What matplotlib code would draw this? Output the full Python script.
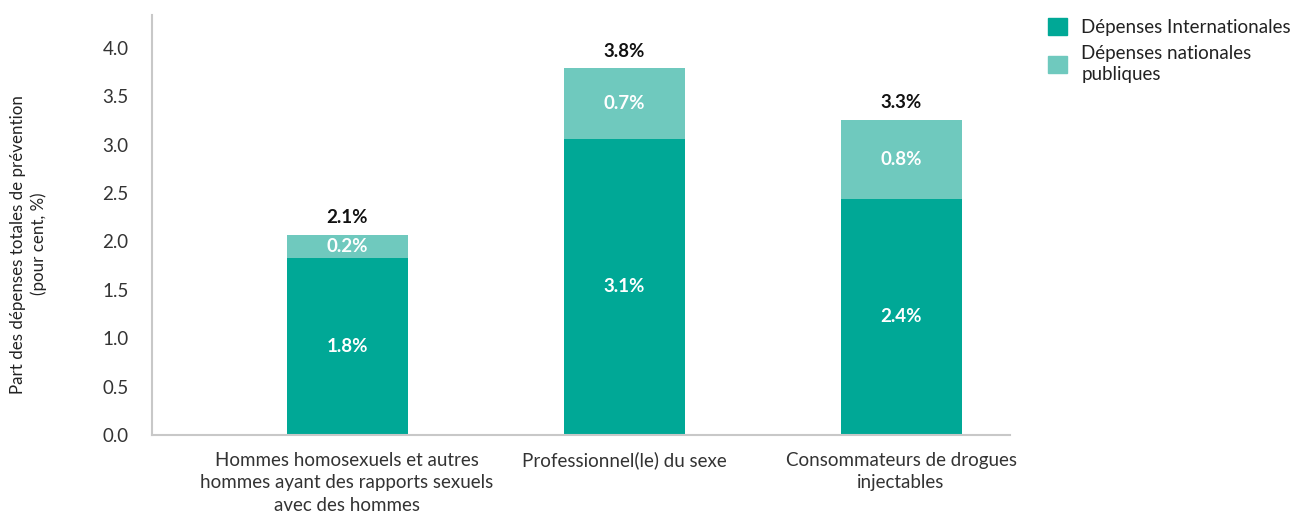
import numpy as np
import matplotlib.pyplot as plt
from matplotlib.patches import Patch

plt.rcParams['font.family'] = ['Lato', 'DejaVu Sans']

# données : part des dépenses totales de prévention (%)
categories = ["Hommes homosexuels et autres\nhommes ayant des rapports sexuels\navec des hommes",
              "Professionnel(le) du sexe",
              "Consommateurs de drogues\ninjectables"]
internationales = [1.83, 3.06, 2.44]
nationales = [0.24, 0.73, 0.82]
series_labels = ["Dépenses Internationales", "Dépenses nationales\npubliques"]
yticks = [0.0, 0.5, 1.0, 1.5, 2.0, 2.5, 3.0, 3.5, 4.0]

c_int = "#00a896"
c_nat = "#6fc9be"
grey = "#c8c8c8"

fig = plt.figure(figsize=(13.04, 5.14), dpi=100)
ax = fig.add_axes([0.1166, 0.1537, 0.6579, 0.8171])

x = np.arange(len(categories))
w = 0.437
intl = np.array(internationales)
nat = np.array(nationales)
ax.bar(x, intl, width=w, color=c_int)
ax.bar(x, nat, width=w, bottom=intl, color=c_nat)

for xi, a, b in zip(x, intl, nat):
    ax.text(xi, a / 2, f"{a:.1f}%", ha='center', va='center', color='white',
            fontsize=13.5, fontweight='bold')
    ax.text(xi, a + b / 2, f"{b:.1f}%", ha='center', va='center', color='white',
            fontsize=13.5, fontweight='bold')
    ax.annotate(f"{a + b:.1f}%", (xi, a + b), xytext=(0, 6), textcoords='offset points',
                ha='center', va='bottom', color='#111111', fontsize=13.5, fontweight='bold')

ax.set_xlim(-0.704, 2.393)
ax.set_ylim(0, 4.34)
ax.set_yticks(yticks)
ax.set_yticklabels([f"{t:.1f}" for t in yticks])
ax.set_xticks(x)
ax.set_xticklabels(categories, fontsize=13.5, color='#222222', linespacing=1.4)
ax.tick_params(axis='both', length=0, labelsize=13.5, colors='#333333')
ax.tick_params(axis='x', pad=12)
ax.tick_params(axis='y', pad=17)

for s in ['top', 'right']:
    ax.spines[s].set_visible(False)
for s in ['left', 'bottom']:
    ax.spines[s].set_color(grey)
    ax.spines[s].set_linewidth(1.5)

fig.text(0.022, 0.525, "Part des dépenses totales de prévention\n(pour cent, %)",
         rotation=90, ha='center', va='center', fontsize=12.2, color='#222222',
         linespacing=1.35)

handles = [Patch(color=c_int), Patch(color=c_nat)]
leg = fig.legend(handles, series_labels, loc='upper left', bbox_to_anchor=(0.791, 0.997),
                 frameon=False, fontsize=13.5, handlelength=1.0, handleheight=1.0,
                 handletextpad=0.75, labelspacing=0.45, labelcolor='#222222')
for t in leg.get_texts():
    t.set_linespacing(1.3)

fig.savefig("out.png", dpi=100)
